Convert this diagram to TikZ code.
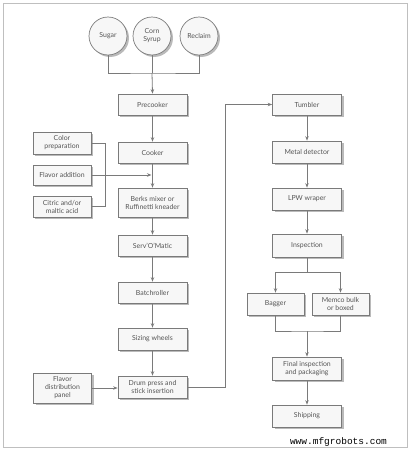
\documentclass[tikz,border=0pt]{standalone}
\usepackage{fontspec}
\setmainfont{Lato}
\setmonofont{Liberation Mono}
\usetikzlibrary{arrows.meta,shadows}
\definecolor{ln}{HTML}{7A7A7A}
\definecolor{tx}{HTML}{555555}
\definecolor{bx}{HTML}{F7F7F7}
\tikzset{
  x=1pt,y=-1pt,
  every node/.style={font=\fontsize{6.9}{8}\selectfont, text=tx, align=center, inner sep=0pt},
  box/.style={draw=ln, line width=0.7pt, fill=bx, minimum width=69pt, minimum height=22pt,
    drop shadow={shadow xshift=2pt, shadow yshift=-2pt, fill=black!45, opacity=0.6}},
  sbox/.style={box, minimum width=58pt},
  circ/.style={circle, draw=ln, line width=0.7pt, fill=bx, minimum size=38pt,
    drop shadow={shadow xshift=2pt, shadow yshift=-2pt, fill=black!45, opacity=0.6}},
  conn/.style={draw=ln, line width=0.8pt},
  arr/.style={conn, -{Stealth[length=4.5pt,width=3.5pt]}}
}
\begin{document}
\begin{tikzpicture}
\useasboundingbox (0,0) rectangle (410,450);
\draw[black!25, line width=0.8pt] (3,3) rectangle (407,447);
% circles
\node[circ] (sugar) at (108,36) {Sugar};
\node[circ] (corn) at (152,36) {Corn\\Syrup};
\node[circ] (recl) at (199,36) {Reclaim};
% left column
\node[box, minimum height=21pt] (pre) at (152.5,104.5) {Precooker};
\node[box, minimum height=21pt] (cook) at (152.5,152.5) {Cooker};
\node[box, minimum height=29pt] (berks) at (152.5,202.5) {Berks mixer or\\Ruffinetti kneader};
\node[box, minimum height=21pt] (serv) at (152.5,245.5) {Serv'O'Matic};
\node[box, minimum height=21pt] (batch) at (152.5,292.5) {Batchroller};
\node[box, minimum height=22pt] (size) at (152.5,339) {Sizing wheels};
\node[box, minimum height=22pt] (drum) at (152.5,387) {Drum press and\\stick insertion};
% side inputs
\node[sbox] (color) at (62,143) {Color\\preparation};
\node[sbox, minimum height=20pt] (flav) at (62,175) {Flavor addition};
\node[sbox, minimum height=21pt] (citric) at (62,206.5) {Citric and/or\\maltic acid};
\node[sbox, minimum height=30pt] (panel) at (62.5,388) {Flavor\\distribution\\panel};
% right column
\node[box, minimum height=21pt] (tumb) at (307,104.5) {Tumbler};
\node[box, minimum height=22pt] (metal) at (307,152) {Metal detector};
\node[box, minimum height=22pt] (lpw) at (307,199) {LPW wraper};
\node[box, minimum height=23pt] (insp) at (307,245.5) {Inspection};
\node[sbox, minimum width=57pt] (bag) at (275.5,304) {Bagger};
\node[sbox, minimum width=57pt] (memco) at (340.5,304) {Memco bulk\\or boxed};
\node[box, minimum height=23pt] (final) at (307,368.5) {Final inspection\\and packaging};
\node[box, minimum height=22pt] (ship) at (307,416) {Shipping};
% watermark
\node[font=\ttfamily\fontsize{9.5}{10}\selectfont, text=black] (wm) at (338.5,442) {www.mfgrobots.com};
% coordinates
\coordinate (j1) at (152,73);
\coordinate (fj) at (152.5,175);
\coordinate (bx) at (105,143);
\coordinate (split) at (307,272);
\coordinate (merge) at (307,331);
% connectors
\draw[conn] (sugar.south) |- (j1) -| (recl.south);
\draw[conn] (corn.south) -- (j1);
\draw[arr] (j1) -- (pre.north);
\draw[arr] (pre) -- (cook);
\draw[arr] (cook) -- (berks);
\draw[conn] (color.east) -- (bx) |- (citric.east);
\draw[arr] (flav.east) -- ([xshift=-1pt]fj);
\draw[arr] (berks) -- (serv);
\draw[arr] (serv) -- (batch);
\draw[arr] (batch) -- (size);
\draw[arr] (size) -- (drum);
\draw[arr] (panel.east) -- (drum.west |- panel.east);
\draw[arr] (drum.east) -- ++(38,0) |- (tumb.west);
\draw[arr] (tumb) -- (metal);
\draw[arr] (metal) -- (lpw);
\draw[arr] (lpw) -- (insp);
\draw[conn] (insp.south) -- (split);
\draw[arr] (split) -| (bag.north);
\draw[arr] (split) -| (memco.north);
\draw[conn] (bag.south) |- (merge) -| (memco.south);
\draw[arr] (merge) -- (final.north);
\draw[arr] (final) -- (ship);
\end{tikzpicture}
\end{document}
